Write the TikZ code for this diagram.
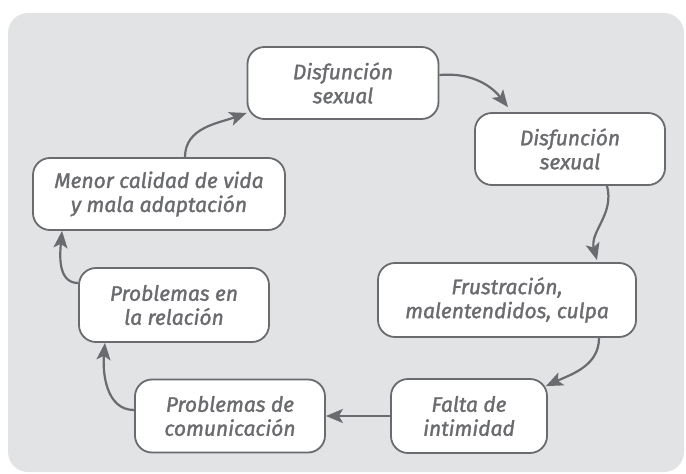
\documentclass[tikz,border=0pt]{standalone}
\usepackage{fontspec}
\setmainfont{Fira Sans}
\newfontfamily\boxfont{Fira Sans}[FakeBold=1.5]
\usetikzlibrary{arrows.meta}
\definecolor{bgc}{HTML}{E2E3E5}
\definecolor{linec}{HTML}{6A6B6E}
\definecolor{txtc}{HTML}{6A6B6E}
\tikzset{
  box/.style={draw=linec, line width=1.8pt, fill=white, rounded corners=17pt,
    align=center, inner sep=0pt, text=txtc,
    font=\boxfont\fontsize{21}{24}\selectfont\itshape},
  conn/.style={draw=linec, line width=2.2pt,
    -{Stealth[length=17pt,width=14pt,inset=4pt]}}
}
\begin{document}
\begin{tikzpicture}[x=1pt,y=-1pt]
\useasboundingbox (0,0) rectangle (686,474);
\fill[bgc, rounded corners=20pt] (8,13) rectangle (684,472);
\node[box, minimum width=191pt, minimum height=72pt] (disf1) at (343,83) {Disfunción\\sexual};
\node[box, minimum width=190pt, minimum height=72pt] (disf2) at (570,149) {Disfunción\\sexual};
\node[box, minimum width=252pt, minimum height=72pt] (menor) at (159,194) {Menor calidad de vida\\y mala adaptación};
\node[box, minimum width=190pt, minimum height=74pt] (rel) at (174,305) {Problemas en\\la relación};
\node[box, minimum width=190pt, minimum height=73pt] (com) at (230,416) {Problemas de\\comunicación};
\node[box, minimum width=258pt, minimum height=74pt] (frus) at (507,300) {Frustración,\\malentendidos, culpa};
\node[box, minimum width=156pt, minimum height=74pt] (falta) at (469,416) {Falta de\\intimidad};
\draw[conn] ([xshift=26pt]menor.north) to[out=90,in=200] ([yshift=-30pt]disf1.west);
\draw[conn] ([yshift=8pt]disf1.east) to[out=5,in=128] ([xshift=-62pt,yshift=5pt]disf2.north);
\draw[conn] ([xshift=37pt]disf2.south) to[out=-75,in=105] ([xshift=90pt,yshift=2pt]frus.north);
\draw[conn] ([xshift=92pt]frus.south) to[out=-90,in=25] ([xshift=-2pt,yshift=-8pt]falta.north east);
\draw[conn] (falta.west) -- (com.east);
\draw[conn] ([yshift=6pt]com.west) to[out=180,in=-95] ([xshift=-69pt]rel.south);
\draw[conn] ([yshift=22pt]rel.west) to[out=180,in=-95] ([xshift=-97pt]menor.south);
\end{tikzpicture}
\end{document}
